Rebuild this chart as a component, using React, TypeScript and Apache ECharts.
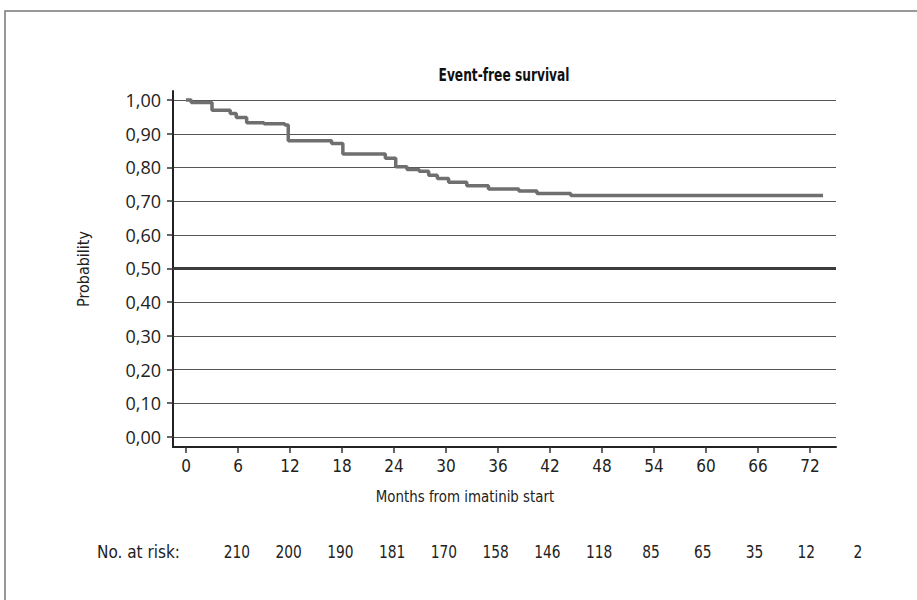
import React, { useEffect, useRef } from "react";
import * as echarts from "echarts";

const months = [0, 0.6, 3.0, 5.1, 5.8, 7.0, 9.0, 11.4, 11.8, 16.8, 18.1, 23.0, 24.2, 25.5, 26.9, 28.0, 29.0, 30.3, 32.4, 34.9, 38.4, 40.5, 44.4, 73.5];
const survival = [1.0, 0.993, 0.97, 0.96, 0.948, 0.933, 0.93, 0.926, 0.879, 0.871, 0.84, 0.827, 0.802, 0.794, 0.789, 0.777, 0.767, 0.756, 0.746, 0.736, 0.73, 0.723, 0.717, 0.717];
const xTicks = [0, 6, 12, 18, 24, 30, 36, 42, 48, 54, 60, 66, 72];
const yTicks = [0, 0.1, 0.2, 0.3, 0.4, 0.5, 0.6, 0.7, 0.8, 0.9, 1.0];
const atRisk = [210, 200, 190, 181, 170, 158, 146, 118, 85, 65, 35, 12, 2];
const titleText = "Event-free survival";
const xName = "Months from imatinib start";
const yName = "Probability";
const riskLabel = "No. at risk:";

const NARROW = "'DejaVu Sans Condensed', 'Liberation Sans Narrow', sans-serif";
const WIDE = "'Open Sans', 'Noto Sans', sans-serif";

export default function App() {
  const ref = useRef<HTMLDivElement>(null);
  useEffect(() => {
    if (!ref.current) return;
    const chart = echarts.init(ref.current, null, { renderer: "svg" });
    const data = months.map((m, i) => [m, survival[i]]);
    const riskTexts = atRisk.map((v, i) => ({
      type: "text",
      x: 237 + i * 51.75,
      y: 552,
      scaleX: 0.9,
      style: { text: String(v), font: `17px ${NARROW}`, fill: "#222", align: "center", verticalAlign: "middle" },
    }));
    chart.setOption({
      animation: false,
      backgroundColor: "#fff",
      grid: { left: 173, right: 81, top: 91, bottom: 153, containLabel: false },
      xAxis: {
        type: "value",
        min: -1.5,
        max: 75,
        axisLine: { show: true, onZero: false, lineStyle: { color: "#222", width: 2 } },
        axisTick: { show: true, customValues: xTicks, length: 6, lineStyle: { color: "#333", width: 1.5 } },
        axisLabel: { customValues: xTicks, fontFamily: NARROW, fontSize: 17, color: "#222", margin: 10 },
        splitLine: { show: false },
      },
      yAxis: {
        type: "value",
        min: -0.03,
        max: 1.027,
        name: yName,
        nameLocation: "middle",
        nameGap: 82,
        nameTextStyle: { fontFamily: NARROW, fontSize: 16, color: "#222" },
        axisLine: { show: true, onZero: false, lineStyle: { color: "#222", width: 2 } },
        axisTick: { show: true, customValues: yTicks, length: 6, lineStyle: { color: "#333", width: 1.5 } },
        axisLabel: {
          customValues: yTicks,
          fontFamily: WIDE,
          fontSize: 18,
          color: "#222",
          margin: 12,
          formatter: (v: number) => v.toFixed(2).replace(".", ","),
        },
        splitLine: { show: true, lineStyle: { color: "#555", width: 1.2 } },
      },
      series: [
        {
          type: "line",
          step: "end",
          data,
          symbol: "none",
          lineStyle: { color: "#6f6f6f", width: 3.5 },
          markLine: {
            silent: true,
            symbol: "none",
            label: { show: false },
            lineStyle: { color: "#3c3c3c", width: 3, type: "solid" },
            data: [{ yAxis: 0.5 }],
          },
          z: 3,
        },
      ],
      graphic: [
        {
          type: "rect",
          shape: { x: 5, y: 11, width: 1000, height: 700 },
          style: { fill: "none", stroke: "#777", lineWidth: 1.5 },
          silent: true,
        },
        {
          type: "text",
          x: 504,
          y: 75,
          scaleX: 0.8,
          style: { text: titleText, font: `bold 17px ${NARROW}`, fill: "#111", align: "center", verticalAlign: "middle" },
        },
        {
          type: "text",
          x: 465,
          y: 497,
          scaleX: 0.93,
          style: { text: xName, font: `16px ${NARROW}`, fill: "#222", align: "center", verticalAlign: "middle" },
        },
        {
          type: "text",
          x: 97,
          y: 552,
          style: { text: riskLabel, font: `17px ${NARROW}`, fill: "#222", align: "left", verticalAlign: "middle" },
        },
        ...riskTexts,
      ],
    });
    return () => chart.dispose();
  }, []);
  return <div ref={ref} style={{ position: "fixed", left: 0, top: 0, width: 917, height: 600 }} />;
}
